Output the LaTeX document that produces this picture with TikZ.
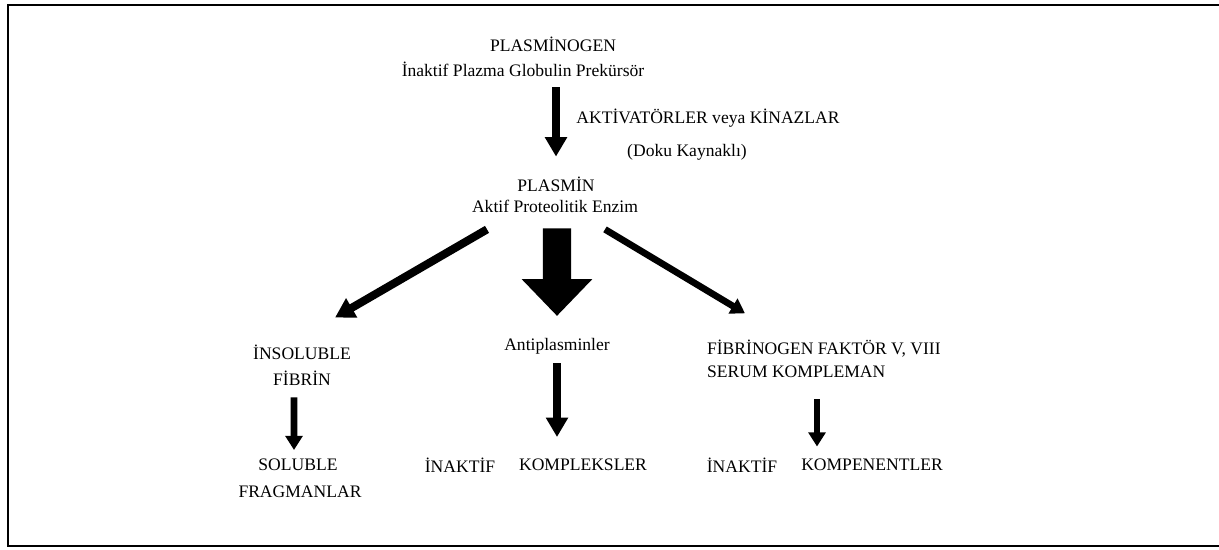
\documentclass[tikz,border=0pt]{standalone}
\usepackage{fontspec}
\setmainfont{Liberation Serif}
\usetikzlibrary{positioning,arrows.meta}

\begin{document}
\begin{tikzpicture}[x=0.02cm,y=-0.02cm,font=\fontsize{10}{12}\selectfont,
            lbl/.style={inner sep=1pt},
            arr/.style={-{Triangle[width=12pt,length=11pt]},line width=4.6pt},
            thinarr/.style={-{Triangle[width=9.5pt,length=8pt]},line width=3.8pt},
            bigarr/.style={-{Triangle[width=39pt,length=21pt]},line width=16pt}]
            \useasboundingbox (0,0) rectangle (1219,549);
            \draw[line width=1.6pt] (1219,5) -- (8,5) -- (8,546) -- (1219,546);
            % top
            \node[lbl] (plg)    at (553,44)  {PLASMİNOGEN};
            \node[lbl] (plgsub) at (523,69)  {İnaktif Plazma Globulin Prekürsör};
            \node[lbl] (akt)    at (708,118) {AKTİVATÖRLER veya KİNAZLAR};
            \node[lbl] (doku)   at (687,152) {(Doku Kaynaklı)};
            \node[lbl] (plm)    at (556,184) {PLASMİN};
            \node[lbl] (enz)    at (555,206) {Aktif Proteolitik Enzim};
            % middle row
            \node[lbl] (insol)  at (302,352) {İNSOLUBLE};
            \node[lbl] (fibrin) at (302,378) {FİBRİN};
            \node[lbl] (anti)   at (557,346) {Antiplasminler};
            \node[lbl,anchor=west] (fib)   at (705,349) {FİBRİNOGEN FAKTÖR V, VIII};
            \node[lbl,anchor=west] (serum) at (705,372) {SERUM KOMPLEMAN};
            % bottom row
            \node[lbl] (sol)    at (298,465) {SOLUBLE};
            \node[lbl] (frag)   at (300,492) {FRAGMANLAR};
            \node[lbl] (inak)   at (460,465) {İNAKTİF};
            \node[lbl] (kompl)  at (583,465) {KOMPLEKSLER};
            \node[lbl] (inakb)  at (742,465) {İNAKTİF};
            \node[lbl] (kompen) at (872,465) {KOMPENENTLER};
            % arrows
            \draw[arr] ([yshift=-0.18cm]plgsub.south -| plm.north) -- ([yshift=0.36cm]plm.north);
            \draw[arr] ([xshift=-1.36cm,yshift=-0.3cm]enz.south) -- ([xshift=0.66cm,yshift=0.5cm]insol.north);
            \draw[bigarr] ([xshift=0.04cm,yshift=-0.28cm]enz.south) -- ([yshift=0.4cm]anti.north);
            \draw[thinarr] ([xshift=1.0cm,yshift=-0.3cm]enz.south) -- ([xshift=0.8cm,yshift=0.5cm]fib.north west);
            \draw[thinarr] ([xshift=-0.16cm,yshift=-0.2cm]fibrin.south) -- ([xshift=-0.08cm,yshift=0.14cm]sol.north);
            \draw[arr] ([yshift=-0.14cm]anti.south) -- ([yshift=0.4cm]kompl.north -| anti.south);
            \draw[thinarr] ([yshift=-0.38cm]serum.south -| kompen.north) ++(-1.1cm,0) -- ++(0,-0.95cm);
\end{tikzpicture}
\end{document}
